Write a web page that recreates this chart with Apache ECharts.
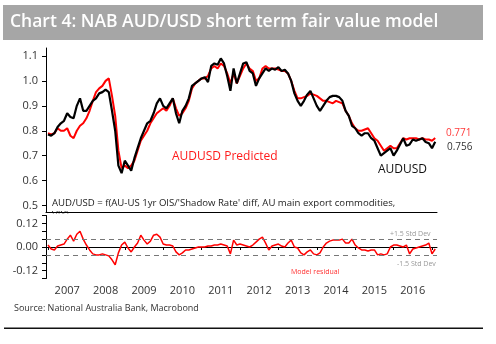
<!DOCTYPE html>
<html><head><meta charset="utf-8">
<script src="https://cdn.jsdelivr.net/npm/echarts@6/dist/echarts.min.js"></script>
<style>html,body{margin:0;padding:0;background:#fff}#c{width:496px;height:344px}</style>
</head><body><div id="c"></div>
<script>
// Monthly observations, Jan 2007 .. Feb 2017
const startYear = 2007;
const audusd = [
0.785,0.78,0.79,0.815,0.83,0.84,0.87,0.855,0.85,0.90,0.93,0.88,
0.88,0.90,0.92,0.93,0.95,0.955,0.965,0.955,0.88,0.80,0.66,0.63,
0.68,0.66,0.64,0.69,0.73,0.77,0.80,0.83,0.84,0.87,0.91,0.93,
0.90,0.89,0.91,0.93,0.87,0.83,0.88,0.90,0.93,0.98,0.99,1.00,
1.01,1.015,0.995,1.06,1.07,1.065,1.09,1.07,1.02,0.96,1.05,0.99,
1.03,1.07,1.075,1.04,1.03,0.98,1.01,1.03,1.05,1.04,1.05,1.045,
1.055,1.04,1.045,1.03,1.00,0.95,0.92,0.90,0.92,0.945,0.96,0.93,
0.90,0.88,0.90,0.92,0.935,0.94,0.94,0.935,0.92,0.88,0.86,0.82,
0.81,0.79,0.78,0.79,0.79,0.77,0.76,0.73,0.70,0.71,0.72,0.73,
0.70,0.72,0.745,0.77,0.74,0.745,0.765,0.76,0.765,0.77,0.755,0.75,
0.73,0.756];
const predicted = [
0.79,0.785,0.79,0.81,0.80,0.80,0.81,0.78,0.77,0.80,0.82,0.83,
0.85,0.88,0.92,0.955,0.97,0.98,1.00,1.01,0.94,0.86,0.72,0.65,
0.66,0.65,0.66,0.68,0.72,0.76,0.78,0.80,0.83,0.85,0.87,0.88,
0.89,0.88,0.90,0.93,0.89,0.86,0.87,0.89,0.92,0.97,0.99,1.00,
1.01,1.01,1.02,1.05,1.06,1.05,1.07,1.06,1.03,0.99,1.03,0.99,
1.02,1.05,1.07,1.05,1.04,1.00,1.01,1.05,1.06,1.05,1.05,1.05,
1.045,1.04,1.04,1.03,1.00,0.96,0.93,0.93,0.935,0.94,0.95,0.945,
0.94,0.93,0.92,0.92,0.915,0.91,0.92,0.915,0.91,0.88,0.86,0.83,
0.81,0.80,0.80,0.805,0.81,0.79,0.77,0.76,0.74,0.72,0.73,0.74,
0.73,0.73,0.75,0.77,0.765,0.77,0.77,0.77,0.765,0.77,0.765,0.765,
0.76,0.771];
const residual = [
0.01,-0.01,-0.015,0.005,0.01,0.015,0.04,0.06,0.03,0.065,0.08,0.04,
0.01,-0.015,-0.035,-0.04,-0.04,-0.035,-0.04,-0.045,-0.065,-0.09,-0.03,0.01,
0.025,-0.005,-0.025,0.0,0.02,0.06,0.035,0.015,0.03,0.06,0.065,0.05,
0.015,0.01,0.01,0.005,-0.025,-0.04,-0.03,-0.015,-0.015,-0.01,-0.005,0.0,
0.0,0.0,0.005,0.005,0.01,0.01,0.015,0.01,0.005,-0.035,0.035,0.01,
0.015,0.01,0.005,0.0,0.01,0.025,0.04,0.05,0.02,-0.015,0.005,0.01,
0.015,0.005,0.0,0.02,0.035,0.0,-0.005,-0.03,-0.04,-0.025,-0.015,-0.035,
-0.04,-0.03,0.0,0.02,0.03,0.035,0.035,0.035,0.04,0.02,0.02,0.04,
0.01,-0.005,-0.015,-0.015,-0.02,-0.015,-0.015,-0.04,-0.035,-0.04,-0.035,0.0,
0.01,0.01,0.005,0.0,0.01,-0.035,-0.01,-0.005,0.0,0.005,0.01,0.02,
-0.035,-0.01];
const stdBands = [0.041, -0.041];
const yearLabels = ['2007','2008','2009','2010','2011','2012','2013','2014','2015','2016'];
const topTicks = {min: 0.5, max: 1.1, interval: 0.1};
const resTicks = {min: -0.16, max: 0.16, interval: 0.04, labelled: [0.12, 0, -0.12]};

const pts = arr => arr.map((v, i) => [startYear + i / 12, v]);
const FONT = '"Open Sans", "Noto Sans", sans-serif';
const txt = '#333';

const chart = echarts.init(document.getElementById('c'), null, {renderer: 'canvas'});
chart.setOption({
  animation: false,
  backgroundColor: '#fff',
  grid: [
    {left: 46, width: 391, top: 48, height: 164},      // 0 top frame (data)
    {left: 48, width: 384, top: 56, height: 149.5},    // 1 top ticks
    {left: 46, width: 391, top: 215.5, height: 63},    // 2 bottom frame (data)
    {left: 48, width: 384, top: 215.5, height: 63}     // 3 bottom ticks
  ],
  xAxis: [
    {gridIndex: 0, type: 'value', min: 2006.948, max: 2017.13, axisLine: {show: true, lineStyle: {color: '#000', width: 1}},
     axisTick: {show: false}, axisLabel: {show: false}, splitLine: {show: false}},
    {gridIndex: 1, type: 'value', min: 2007, max: 2017, show: false},
    {gridIndex: 2, type: 'value', min: 2006.948, max: 2017.13, axisLine: {show: true, lineStyle: {color: '#000', width: 1}},
     axisTick: {show: false}, axisLabel: {show: false}, splitLine: {show: false}},
    {gridIndex: 3, type: 'value', position: 'bottom', min: 2007, max: 2017, interval: 1,
     axisLine: {show: false}, axisTick: {show: true, length: 3, lineStyle: {color: '#000'}},
     axisLabel: {show: false}, splitLine: {show: false}},
    {gridIndex: 3, type: 'value', position: 'bottom', min: 0, max: 20, interval: 1,
     axisLine: {show: false}, axisTick: {show: false}, splitLine: {show: false},
     axisLabel: {show: true, margin: 7, color: txt, fontFamily: FONT, fontSize: 11,
       showMinLabel: false, showMaxLabel: false,
       formatter: v => (Math.round(v) % 2 === 1 ? yearLabels[(Math.round(v) - 1) / 2] : '')}}
  ],
  yAxis: [
    {gridIndex: 0, type: 'value', min: 0.474, max: 1.132, axisLine: {show: true, lineStyle: {color: '#000', width: 1}},
     axisTick: {show: false}, axisLabel: {show: false}, splitLine: {show: false}},
    {gridIndex: 1, type: 'value', min: topTicks.min, max: topTicks.max, interval: topTicks.interval, offset: 2,
     axisLine: {show: false}, axisTick: {show: true, length: 4, lineStyle: {color: '#000'}}, splitLine: {show: false},
     axisLabel: {margin: 8, color: txt, fontFamily: FONT, fontSize: 11, formatter: v => v.toFixed(1)}},
    {gridIndex: 2, type: 'value', min: resTicks.min, max: resTicks.max, interval: resTicks.interval,
     axisLine: {show: true, lineStyle: {color: '#000', width: 1}}, axisTick: {show: true, length: 4, lineStyle: {color: '#000'}},
     splitLine: {show: false},
     axisLabel: {margin: 8, color: txt, fontFamily: FONT, fontSize: 11,
       formatter: v => (resTicks.labelled.some(l => Math.abs(l - v) < 1e-6) ? v.toFixed(2) : '')}},
    {gridIndex: 3, type: 'value', min: -0.16, max: 0.16, show: false}
  ],
  series: [
    {type: 'line', xAxisIndex: 0, yAxisIndex: 0, data: pts(predicted), symbol: 'none', clip: false,
     lineStyle: {color: '#ff0000', width: 2}, z: 3},
    {type: 'line', xAxisIndex: 0, yAxisIndex: 0, data: pts(audusd), symbol: 'none', clip: false,
     lineStyle: {color: '#000000', width: 2.2}, z: 4},
    {type: 'line', xAxisIndex: 2, yAxisIndex: 2, data: pts(residual), symbol: 'none', clip: false,
     lineStyle: {color: '#ff0000', width: 1.5}, z: 4,
     markLine: {silent: true, symbol: 'none', label: {show: false},
       lineStyle: {color: '#777', type: [5, 4], width: 1},
       data: stdBands.map(b => ({yAxis: b}))}}
  ],
  graphic: [
    {type: 'rect', shape: {x: 3, y: 5, width: 480, height: 35}, style: {fill: '#a6a6a6'}},
    {type: 'text', x: 10, y: 22, style: {text: 'Chart 4: NAB AUD/USD short term fair value model', fill: '#fff',
      font: '600 17.5px ' + FONT, textVerticalAlign: 'middle'}},
    {type: 'text', x: 172, y: 157, style: {text: 'AUDUSD Predicted', fill: '#ff1a1a', font: '12px ' + FONT, textVerticalAlign: 'middle'}},
    {type: 'text', x: 378, y: 170, style: {text: 'AUDUSD', fill: '#111', font: '12px ' + FONT, textVerticalAlign: 'middle'}},
    {type: 'text', x: 446, y: 133, style: {text: '0.771', fill: '#ff3b3b', font: '10px ' + FONT, textVerticalAlign: 'middle'}},
    {type: 'text', x: 447, y: 147, style: {text: '0.756', fill: '#333', font: '10px ' + FONT, textVerticalAlign: 'middle'}},
    {type: 'text', x: 52, y: 203, style: {text: "AUD/USD = f(AU-US 1yr OIS/'Shadow Rate' diff, AU main export commodities,", fill: '#222', font: '9.6px ' + FONT, textVerticalAlign: 'middle'}},
    {type: 'text', x: 52, y: 215, style: {text: 'VIX)', fill: '#222', font: '9.6px ' + FONT, textVerticalAlign: 'middle'}},
    {type: 'rect', z: 10, shape: {x: 50, y: 213.5, width: 30, height: 10}, style: {fill: '#fff'}},
    {type: 'text', x: 390, y: 234, style: {text: '+1.5 Std Dev', fill: '#999', font: '7px ' + FONT, textVerticalAlign: 'middle'}},
    {type: 'text', x: 397, y: 264, style: {text: '-1.5 Std Dev', fill: '#999', font: '7px ' + FONT, textVerticalAlign: 'middle'}},
    {type: 'text', x: 291, y: 272, style: {text: 'Model residual', fill: '#ff3030', font: '7px ' + FONT, textVerticalAlign: 'middle'}},
    {type: 'text', x: 14, y: 308, style: {text: 'Source: National Australia Bank, Macrobond', fill: '#333', font: '9px ' + FONT, textVerticalAlign: 'middle'}},
    {type: 'rect', shape: {x: 4, y: 327.5, width: 479, height: 1.5}, style: {fill: '#111'}}
  ]
});
</script></body></html>
